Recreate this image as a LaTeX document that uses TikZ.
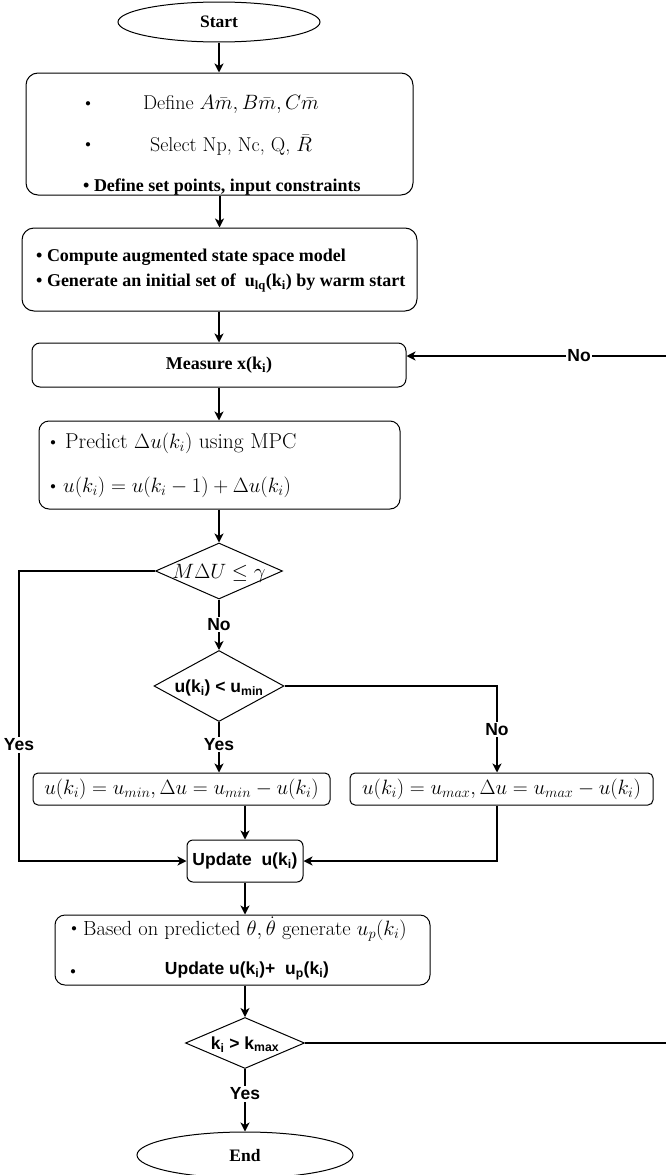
\documentclass[tikz,border=0pt]{standalone}
\usepackage{amsmath}
\usepackage{fontspec}
\newfontfamily\tmsb{Liberation Serif}
\newfontfamily\arb{Liberation Sans}
\usetikzlibrary{shapes.geometric,arrows.meta}
\newcommand\dtext[1]{\makebox[0pt]{\raisebox{-0.35em}[0pt][0pt]{#1}}}
\tikzset{
  box/.style={draw, rounded corners=#1, line width=1pt, inner sep=0pt},
  box/.default=8pt,
  term/.style={draw, ellipse, line width=1pt, inner sep=0pt},
  dec/.style={draw, diamond, line width=1pt, inner sep=0pt},
  conn/.style={line width=2pt, -{Stealth[length=9pt,width=9pt,inset=2.5pt]}},
  link/.style={line width=2pt},
  lbl/.style={fill=white, inner sep=1.5pt, font=\arb\bfseries\fontsize{17.5}{20}\selectfont},
  lmt/.style={inner sep=0pt, font=\fontsize{20.5}{24}\selectfont},
  lmb/.style={inner sep=0pt, font=\fontsize{21.5}{25}\selectfont},
  lms/.style={inner sep=0pt, font=\fontsize{20}{23}\selectfont},
  tbt/.style={inner sep=0pt, font=\tmsb\bfseries\fontsize{18}{21}\selectfont},
  sbt/.style={inner sep=0pt, font=\arb\bfseries\fontsize{17.5}{20}\selectfont},
  dotm/.style={inner sep=0pt, font=\fontsize{11}{13}\selectfont},
}
\begin{document}
\begin{tikzpicture}[x=1pt,y=-1pt]
\useasboundingbox (0,0) rectangle (665,1175);
% terminals
\node[term, minimum width=202pt, minimum height=40pt, font=\tmsb\bfseries\fontsize{17.5}{20}\selectfont] (start) at (219,22) {Start};
\node[term, minimum width=216pt, minimum height=46pt, font=\tmsb\bfseries\fontsize{17.5}{20}\selectfont] (end) at (245,1155) {End};
% box 1
\node[box=12pt, minimum width=387pt, minimum height=122pt] (b1) at (219.5,134) {};
\node[dotm] (b1d1) at (88,104) {$\bullet$};
\node[lms] (t1a) at (231,104) {Define $A\bar{m}, B\bar{m}, C\bar{m}$};
\node[dotm] (b1d2) at (88,145) {$\bullet$};
\node[lms] (t1b) at (231,145) {Select Np, Nc, Q, $\bar{R}$};
\node[tbt, anchor=west] (t1c) at (83,187) {\textbullet\ Define set points, input constraints};
% box 2
\node[box=12pt, minimum width=395pt, minimum height=83pt] (b2) at (219.5,269.5) {};
\node[tbt, anchor=west] (t2a) at (36,257) {\textbullet\ Compute augmented state space model};
\node[tbt, anchor=west] (t2b) at (36,283) {\textbullet\ Generate an initial set of \ u\textsubscript{lq}(k\textsubscript{i}) by warm start};
% box 3
\node[box=8pt, tbt, minimum width=374pt, minimum height=44pt] (b3) at (219,365) {Measure x(k\textsubscript{i})};
% box 4
\node[box=10pt, minimum width=361pt, minimum height=88pt] (b4) at (219.5,465) {};
\node[dotm] (b4d1) at (53,443) {$\bullet$};
\node[lmb, anchor=west] (t4a) at (65,443) {Predict $\Delta u(k_i)$ using MPC};
\node[dotm] (b4d2) at (53,487) {$\bullet$};
\node[lmb, anchor=west] (t4b) at (63,487) {$u(k_i)=u(k_i-1)+\Delta u(k_i)$};
% decisions
\node[dec, minimum width=127pt, minimum height=56pt, font=\fontsize{20.5}{24}\selectfont] (d1) at (219,571) {\dtext{$M\Delta U\leq\gamma$}};
\node[dec, minimum width=130pt, minimum height=71pt, font=\arb\bfseries\fontsize{17.5}{20}\selectfont] (d2) at (219,686) {\dtext{u(k\textsubscript{i}) < u\textsubscript{min}}};
% boxes 5, 6
\node[box=5pt, lmb, minimum width=297pt, minimum height=32pt] (b5) at (181.5,789) {$u(k_i)=u_{min},\Delta u=u_{min}-u(k_i)$};
\node[box=5pt, lmb, minimum width=303pt, minimum height=32pt] (b6) at (501.5,789) {$u(k_i)=u_{max},\Delta u=u_{max}-u(k_i)$};
% update
\node[box=6pt, sbt, minimum width=116pt, minimum height=42pt] (upd) at (245,861) {Update\ \ u(k\textsubscript{i})};
% box 7
\node[box=10pt, minimum width=375pt, minimum height=70pt] (b7) at (242.5,950) {};
\node[dotm] (b7d1) at (74,929) {$\bullet$};
\node[lmt, anchor=west] (t7a) at (83,929) {Based on predicted $\theta,\dot{\theta}$ generate $u_p(k_i)$};
\node[dotm] (b7d2) at (73,972) {$\bullet$};
\node[sbt] (t7b) at (247,971) {Update u(k\textsubscript{i})+\ \ u\textsubscript{p}(k\textsubscript{i})};
% decision 3
\node[dec, minimum width=119pt, minimum height=51pt, font=\arb\bfseries\fontsize{17.5}{20}\selectfont] (d3) at (245,1043) {\dtext{k\textsubscript{i} > k\textsubscript{max}}};
% helper coordinates
\coordinate (lj) at (19,571);
\coordinate (rj) at (497,686);
\coordinate (rb) at (668,1043);
\coordinate (rt) at (668,356);
% connectors
\draw[conn] (start.south) -- (start.south |- b1.north);
\draw[conn] (b1.south) -- (b1.south |- b2.north);
\draw[conn] (b2.south -| b3.north) -- (b3.north);
\draw[conn] (b3.south) -- (b3.south |- b4.north);
\draw[conn] (b4.south -| d1.north) -- (d1.north);
\draw[conn] (d1.south) -- node[lbl]{No} (d2.north);
\draw[conn] (d2.south) -- node[lbl, pos=0.45]{Yes} (d2.south |- b5.north);
\draw[conn] (d2.east) -- (rj) -- node[lbl, pos=0.5]{No} (rj |- b6.north);
\draw[conn] (d1.west) -- (lj) -- node[lbl, pos=0.6]{Yes} (lj |- upd.west) -- (upd.west);
\draw[conn] (b5.south -| upd.north) -- (upd.north);
\draw[conn] (b6.south -| rj) -- (rj |- upd.east) -- (upd.east);
\draw[conn] (upd.south) -- (upd.south |- b7.north);
\draw[conn] (b7.south -| d3.north) -- (d3.north);
\draw[conn] (d3.south) -- node[lbl, pos=0.4]{Yes} (end.north);
\draw[link] (d3.east) -- (rb) -- (rt);
\draw[conn] (rt) -- node[lbl, pos=0.34]{No} (b3.east |- rt);
\end{tikzpicture}
\end{document}
